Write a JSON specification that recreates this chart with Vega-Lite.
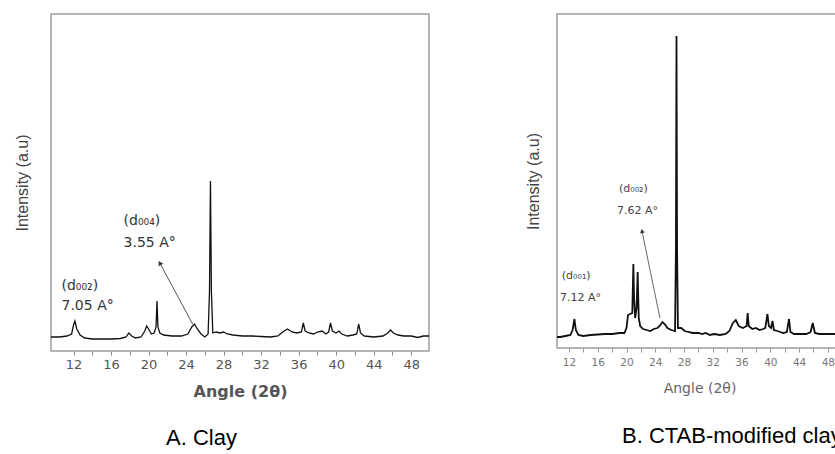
{
  "$schema": "https://vega.github.io/schema/vega-lite/v6.json",
  "background": "white",
  "padding": {"left": 13, "top": 13, "right": -7, "bottom": 0},
  "spacing": 94,
  "config": {
    "axis": {"grid": false},
    "title": {"font": "Liberation Sans", "fontSize": 22, "fontWeight": "normal", "color": "#000"}
  },
  "datasets": {
    "clay": [
      {"angle": 9.6, "intensity": 14}, {"angle": 10.5, "intensity": 14}, {"angle": 11.3, "intensity": 15}, {"angle": 11.8, "intensity": 17},
      {"angle": 12.0, "intensity": 26}, {"angle": 12.15, "intensity": 30}, {"angle": 12.35, "intensity": 22}, {"angle": 12.7, "intensity": 16},
      {"angle": 13.2, "intensity": 13}, {"angle": 14, "intensity": 12}, {"angle": 15, "intensity": 12}, {"angle": 16, "intensity": 12},
      {"angle": 17, "intensity": 12.5}, {"angle": 17.6, "intensity": 14}, {"angle": 17.9, "intensity": 18}, {"angle": 18.2, "intensity": 15},
      {"angle": 18.6, "intensity": 13}, {"angle": 19.2, "intensity": 14}, {"angle": 19.6, "intensity": 20}, {"angle": 19.8, "intensity": 25},
      {"angle": 20.0, "intensity": 22}, {"angle": 20.3, "intensity": 17}, {"angle": 20.6, "intensity": 18}, {"angle": 20.8, "intensity": 24},
      {"angle": 20.9, "intensity": 50}, {"angle": 21.0, "intensity": 24}, {"angle": 21.2, "intensity": 18}, {"angle": 21.6, "intensity": 16},
      {"angle": 22.5, "intensity": 15}, {"angle": 23.5, "intensity": 15}, {"angle": 24.2, "intensity": 17}, {"angle": 24.6, "intensity": 24},
      {"angle": 24.9, "intensity": 27}, {"angle": 25.2, "intensity": 22}, {"angle": 25.6, "intensity": 17}, {"angle": 26.0, "intensity": 14},
      {"angle": 26.35, "intensity": 17}, {"angle": 26.5, "intensity": 60}, {"angle": 26.6, "intensity": 170}, {"angle": 26.7, "intensity": 60},
      {"angle": 26.85, "intensity": 18}, {"angle": 27.2, "intensity": 19}, {"angle": 27.6, "intensity": 18}, {"angle": 28.0, "intensity": 19},
      {"angle": 28.4, "intensity": 17}, {"angle": 29, "intensity": 16}, {"angle": 30, "intensity": 15}, {"angle": 31, "intensity": 15},
      {"angle": 32, "intensity": 14.5}, {"angle": 33, "intensity": 14}, {"angle": 33.8, "intensity": 15}, {"angle": 34.3, "intensity": 19},
      {"angle": 34.8, "intensity": 22}, {"angle": 35.3, "intensity": 19}, {"angle": 35.8, "intensity": 18}, {"angle": 36.3, "intensity": 19},
      {"angle": 36.5, "intensity": 28}, {"angle": 36.7, "intensity": 20}, {"angle": 37.1, "intensity": 18}, {"angle": 37.6, "intensity": 17},
      {"angle": 38.0, "intensity": 19}, {"angle": 38.5, "intensity": 20}, {"angle": 38.9, "intensity": 17}, {"angle": 39.2, "intensity": 19},
      {"angle": 39.4, "intensity": 28}, {"angle": 39.6, "intensity": 20}, {"angle": 40.0, "intensity": 18}, {"angle": 40.3, "intensity": 20},
      {"angle": 40.6, "intensity": 17}, {"angle": 41.2, "intensity": 15}, {"angle": 41.8, "intensity": 16}, {"angle": 42.2, "intensity": 17},
      {"angle": 42.4, "intensity": 27}, {"angle": 42.6, "intensity": 18}, {"angle": 43, "intensity": 15}, {"angle": 44, "intensity": 14},
      {"angle": 45, "intensity": 15}, {"angle": 45.5, "intensity": 18}, {"angle": 45.8, "intensity": 21}, {"angle": 46.1, "intensity": 18},
      {"angle": 46.6, "intensity": 16}, {"angle": 47.2, "intensity": 15}, {"angle": 48, "intensity": 15}, {"angle": 48.7, "intensity": 13.5},
      {"angle": 49.3, "intensity": 15}, {"angle": 49.9, "intensity": 15}
    ],
    "ctab": [
      {"angle": 10.33, "intensity": 11}, {"angle": 10.8, "intensity": 11}, {"angle": 11.5, "intensity": 12}, {"angle": 12.2, "intensity": 13},
      {"angle": 12.5, "intensity": 18}, {"angle": 12.75, "intensity": 29}, {"angle": 12.95, "intensity": 18}, {"angle": 13.3, "intensity": 13},
      {"angle": 14, "intensity": 12}, {"angle": 15, "intensity": 13}, {"angle": 16, "intensity": 13.5}, {"angle": 17, "intensity": 14},
      {"angle": 18, "intensity": 14}, {"angle": 19, "intensity": 15}, {"angle": 19.7, "intensity": 15}, {"angle": 20.0, "intensity": 20},
      {"angle": 20.2, "intensity": 33}, {"angle": 20.5, "intensity": 34}, {"angle": 20.8, "intensity": 35}, {"angle": 20.95, "intensity": 84},
      {"angle": 21.05, "intensity": 50}, {"angle": 21.2, "intensity": 30}, {"angle": 21.4, "intensity": 40}, {"angle": 21.55, "intensity": 76},
      {"angle": 21.7, "intensity": 30}, {"angle": 21.9, "intensity": 22}, {"angle": 22.3, "intensity": 19}, {"angle": 22.8, "intensity": 18},
      {"angle": 23.3, "intensity": 17}, {"angle": 23.8, "intensity": 19}, {"angle": 24.3, "intensity": 20}, {"angle": 24.6, "intensity": 22},
      {"angle": 25.0, "intensity": 26}, {"angle": 25.3, "intensity": 24}, {"angle": 25.7, "intensity": 20}, {"angle": 26.2, "intensity": 18},
      {"angle": 26.75, "intensity": 17}, {"angle": 26.87, "intensity": 100}, {"angle": 26.95, "intensity": 312}, {"angle": 27.03, "intensity": 100},
      {"angle": 27.15, "intensity": 20}, {"angle": 27.6, "intensity": 20}, {"angle": 28.1, "intensity": 17}, {"angle": 28.6, "intensity": 16},
      {"angle": 29.2, "intensity": 15}, {"angle": 30, "intensity": 15}, {"angle": 30.5, "intensity": 14}, {"angle": 31, "intensity": 15},
      {"angle": 31.6, "intensity": 13}, {"angle": 32.2, "intensity": 14}, {"angle": 33, "intensity": 13}, {"angle": 33.8, "intensity": 14},
      {"angle": 34.3, "intensity": 17}, {"angle": 34.8, "intensity": 25}, {"angle": 35.2, "intensity": 28}, {"angle": 35.6, "intensity": 22},
      {"angle": 36.2, "intensity": 20}, {"angle": 36.7, "intensity": 22}, {"angle": 36.85, "intensity": 35}, {"angle": 37.0, "intensity": 22},
      {"angle": 37.5, "intensity": 19}, {"angle": 38, "intensity": 20}, {"angle": 38.5, "intensity": 18}, {"angle": 39.0, "intensity": 19},
      {"angle": 39.3, "intensity": 20}, {"angle": 39.6, "intensity": 34}, {"angle": 39.8, "intensity": 22}, {"angle": 40.1, "intensity": 20},
      {"angle": 40.3, "intensity": 27}, {"angle": 40.5, "intensity": 18}, {"angle": 41, "intensity": 17}, {"angle": 41.8, "intensity": 15},
      {"angle": 42.3, "intensity": 16}, {"angle": 42.6, "intensity": 29}, {"angle": 42.8, "intensity": 16}, {"angle": 43.3, "intensity": 14},
      {"angle": 44, "intensity": 14}, {"angle": 45, "intensity": 14}, {"angle": 45.6, "intensity": 16}, {"angle": 45.9, "intensity": 25},
      {"angle": 46.2, "intensity": 15}, {"angle": 46.8, "intensity": 14}, {"angle": 47.5, "intensity": 14}, {"angle": 48.3, "intensity": 14},
      {"angle": 49.2, "intensity": 14}, {"angle": 50.0, "intensity": 14}
    ],
    "annotA": [
      {"angle": 10.72, "intensity": 65, "label": "(d₀₀₂)"},
      {"angle": 10.72, "intensity": 45, "label": "7.05 A°"},
      {"angle": 17.34, "intensity": 130, "label": "(d₀₀₄)"},
      {"angle": 17.34, "intensity": 108, "label": "3.55 A°"}
    ],
    "annotB": [
      {"angle": 11.0, "intensity": 72, "label": "(d₀₀₁)"},
      {"angle": 10.75, "intensity": 50, "label": "7.12 A°"},
      {"angle": 18.95, "intensity": 159, "label": "(d₀₀₂)"},
      {"angle": 18.68, "intensity": 137, "label": "7.62 A°"}
    ],
    "arrowA": [{"angle": 24.7, "intensity": 27, "angle2": 21.2, "intensity2": 88}],
    "headA": [{"angle": 21.2, "intensity": 88}],
    "arrowB": [{"angle": 24.65, "intensity": 30, "angle2": 22.15, "intensity2": 117}],
    "headB": [{"angle": 22.15, "intensity": 117}]
  },
  "hconcat": [
    {
      "width": 378,
      "height": 337,
      "view": {"stroke": "#9e9e9e", "strokeWidth": 1.5},
      "title": {"text": "A. Clay", "orient": "bottom", "anchor": "start", "frame": "group", "dx": 115, "offset": 29},
      "encoding": {
        "x": {
          "field": "angle", "type": "quantitative",
          "scale": {"domain": [9.6, 49.9], "nice": false, "zero": false},
          "axis": {
            "values": [12, 14, 16, 18, 20, 22, 24, 26, 28, 30, 32, 34, 36, 38, 40, 42, 44, 46, 48],
            "labelExpr": "datum.value % 4 === 0 ? datum.label : ''",
            "tickSize": 4,
            "domain": false, "tickColor": "#888", "labelFlush": false,
            "labelFont": "DejaVu Sans", "labelFontSize": 13, "labelColor": "#555", "labelPadding": 3,
            "title": "Angle (2θ)", "titleFont": "DejaVu Sans", "titleFontSize": 16, "titleFontWeight": "bold",
            "titleColor": "#555", "titlePadding": 12
          }
        },
        "y": {
          "field": "intensity", "type": "quantitative",
          "scale": {"domain": [0, 337], "nice": false, "zero": false},
          "axis": {
            "labels": false, "ticks": false, "domain": false,
            "title": "Intensity (a.u)", "titleFont": "Liberation Sans", "titleFontSize": 16,
            "titleFontWeight": "normal", "titleColor": "#444", "titlePadding": 21
          }
        }
      },
      "layer": [
        {
          "data": {"name": "clay"},
          "mark": {"type": "line", "color": "#111", "strokeWidth": 1.3, "clip": true}
        },
        {
          "data": {"name": "arrowA"},
          "mark": {"type": "rule", "color": "#555", "strokeWidth": 1},
          "encoding": {"x2": {"field": "angle2"}, "y2": {"field": "intensity2"}}
        },
        {
          "data": {"name": "headA"},
          "mark": {"type": "point", "shape": "triangle-up", "filled": true, "color": "#333", "size": 28, "angle": 331, "opacity": 1}
        },
        {
          "data": {"name": "annotA"},
          "mark": {"type": "text", "align": "left", "baseline": "middle", "font": "DejaVu Sans", "fontSize": 14, "color": "#333"},
          "encoding": {"text": {"field": "label"}}
        }
      ]
    },
    {
      "width": 285,
      "height": 334,
      "view": {"stroke": "#9e9e9e", "strokeWidth": 1.5},
      "title": {"text": "B. CTAB-modified clay", "orient": "bottom", "anchor": "start", "frame": "group", "dx": 65, "offset": 30},
      "encoding": {
        "x": {
          "field": "angle", "type": "quantitative",
          "scale": {"domain": [10.33, 49.97], "nice": false, "zero": false},
          "axis": {
            "values": [12, 14, 16, 18, 20, 22, 24, 26, 28, 30, 32, 34, 36, 38, 40, 42, 44, 46, 48],
            "labelExpr": "datum.value % 4 === 0 ? datum.label : ''",
            "tickSize": 4,
            "domain": false, "tickColor": "#999", "labelFlush": false,
            "labelFont": "DejaVu Sans", "labelFontSize": 10.5, "labelColor": "#777", "labelPadding": 5,
            "title": "Angle (2θ)", "titleFont": "DejaVu Sans", "titleFontSize": 14, "titleFontWeight": "normal",
            "titleColor": "#666", "titlePadding": 14
          }
        },
        "y": {
          "field": "intensity", "type": "quantitative",
          "scale": {"domain": [0, 334], "nice": false, "zero": false},
          "axis": {
            "labels": false, "ticks": false, "domain": false,
            "title": "Intensity (a.u)", "titleFont": "Liberation Sans", "titleFontSize": 16,
            "titleFontWeight": "normal", "titleColor": "#444", "titlePadding": 16
          }
        }
      },
      "layer": [
        {
          "data": {"name": "ctab"},
          "mark": {"type": "line", "color": "#111", "strokeWidth": 1.8, "clip": true}
        },
        {
          "data": {"name": "arrowB"},
          "mark": {"type": "rule", "color": "#666", "strokeWidth": 1},
          "encoding": {"x2": {"field": "angle2"}, "y2": {"field": "intensity2"}}
        },
        {
          "data": {"name": "headB"},
          "mark": {"type": "point", "shape": "triangle-up", "filled": true, "color": "#333", "size": 22, "angle": 348, "opacity": 1}
        },
        {
          "data": {"name": "annotB"},
          "mark": {"type": "text", "align": "left", "baseline": "middle", "font": "DejaVu Sans", "fontSize": 11, "color": "#444"},
          "encoding": {"text": {"field": "label"}}
        }
      ]
    }
  ]
}
